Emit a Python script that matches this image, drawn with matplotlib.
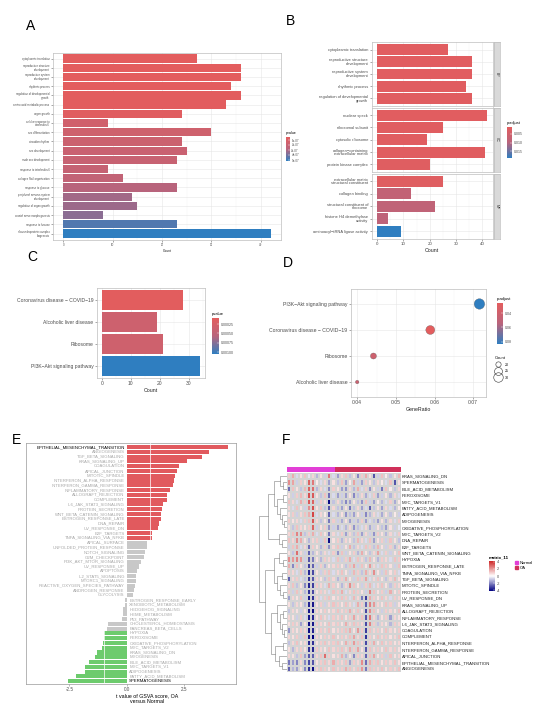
import numpy as np
import matplotlib
matplotlib.use('Agg')
import matplotlib.pyplot as plt
from matplotlib.colors import LinearSegmentedColormap, ListedColormap, Normalize
from matplotlib.cm import ScalarMappable
from matplotlib.lines import Line2D
from matplotlib.patches import Patch

plt.rcParams['font.family'] = ['Liberation Sans', 'DejaVu Sans']

# ---- A: GO enrichment (bar) ----
a_terms = ['cytoplasmic translation', 'reproductive structure\ndevelopment', 'reproductive system\ndevelopment',
           'rhythmic process', 'regulation of developmental\ngrowth', 'amino acid metabolic process', 'organ growth',
           'cellular response to\ninterleukin-6', 'sex differentiation', 'circadian rhythm', 'sex development',
           'male sex development', 'response to interleukin-6', 'collagen fibril organization',
           'response to glucose', 'peripheral nervous system\ndevelopment', 'regulation of organ growth',
           'cranial nerve morphogenesis', 'response to hexose', 'ribonucleoprotein complex\nbiogenesis']
a_count = [27, 36, 36, 34, 36, 33, 24, 9, 30, 24, 25, 23, 9, 12, 23, 14, 15, 8, 23, 42]
a_pval = [0.40e-7, 0.41e-7, 0.42e-7, 0.43e-7, 0.45e-7, 0.48e-7, 0.55e-7, 1.5e-7, 1.6e-7, 1.8e-7,
          1.9e-7, 2.0e-7, 2.1e-7, 2.3e-7, 2.8e-7, 3.2e-7, 3.3e-7, 3.6e-7, 4.6e-7, 5.2e-7]

# ---- B: GO by ontology ----
b_onto = ['BP', 'CC', 'MF']
b_terms = [['cytoplasmic translation', 'reproductive structure\ndevelopment', 'reproductive system\ndevelopment',
            'rhythmic process', 'regulation of developmental\ngrowth'],
           ['nuclear speck', 'ribosomal subunit', 'cytosolic ribosome', 'collagen\u2212containing\nextracellular matrix',
            'protein kinase complex'],
           ['extracellular matrix\nstructural constituent', 'collagen binding', 'structural constituent of\nribosome',
            'histone H4 demethylase\nactivity', 'aminoacyl\u2212tRNA ligase activity']]
b_count = [[27, 36, 36, 34, 36], [42, 25, 19, 41, 20], [25, 13, 22, 4, 9]]
b_padj = [[0.0015, 0.0015, 0.0015, 0.0016, 0.0016], [0.0015, 0.0016, 0.0017, 0.0016, 0.0018],
          [0.0018, 0.0080, 0.0085, 0.0090, 0.0190]]

# ---- C: KEGG bar ----
c_terms = ['Coronavirus disease \u2212 COVID\u221219', 'Alcoholic liver disease', 'Ribosome',
           'PI3K\u2212Akt signaling pathway']
c_count = [28, 19, 21, 34]
c_pval = [0.0001, 0.00034, 0.00033, 0.00105]

# ---- D: KEGG dot ----
d_terms = ['PI3K\u2212Akt signaling pathway', 'Coronavirus disease \u2212 COVID\u221219', 'Ribosome',
           'Alcoholic liver disease']
d_ratio = [0.0716, 0.0589, 0.0442, 0.0400]
d_count = [34, 28, 21, 19]
d_padj = [0.083, 0.026, 0.041, 0.043]

# ---- E: GSVA t values ----
e_sets = ['EPITHELIAL_MESENCHYMAL_TRANSITION', 'ANGIOGENESIS', 'TGF_BETA_SIGNALING', 'KRAS_SIGNALING_UP',
          'COAGULATION', 'APICAL_JUNCTION', 'MITOTIC_SPINDLE', 'INTERFERON_ALPHA_RESPONSE',
          'INTERFERON_GAMMA_RESPONSE', 'INFLAMMATORY_RESPONSE', 'ALLOGRAFT_REJECTION', 'COMPLEMENT',
          'IL6_JAK_STAT3_SIGNALING', 'PROTEIN_SECRETION', 'WNT_BETA_CATENIN_SIGNALING', 'ESTROGEN_RESPONSE_LATE',
          'DNA_REPAIR', 'UV_RESPONSE_DN', 'E2F_TARGETS', 'TNFA_SIGNALING_VIA_NFKB', 'APICAL_SURFACE',
          'UNFOLDED_PROTEIN_RESPONSE', 'NOTCH_SIGNALING', 'G2M_CHECKPOINT', 'PI3K_AKT_MTOR_SIGNALING',
          'UV_RESPONSE_UP', 'APOPTOSIS', 'IL2_STAT5_SIGNALING', 'MTORC1_SIGNALING',
          'REACTIVE_OXYGEN_SPECIES_PATHWAY', 'ANDROGEN_RESPONSE', 'GLYCOLYSIS', 'ESTROGEN_RESPONSE_EARLY',
          'XENOBIOTIC_METABOLISM', 'HEDGEHOG_SIGNALING', 'HEME_METABOLISM', 'P53_PATHWAY',
          'CHOLESTEROL_HOMEOSTASIS', 'PANCREAS_BETA_CELLS', 'HYPOXIA', 'PEROXISOME', 'OXIDATIVE_PHOSPHORYLATION',
          'MYC_TARGETS_V2', 'KRAS_SIGNALING_DN', 'MYOGENESIS', 'BILE_ACID_METABOLISM', 'MYC_TARGETS_V1',
          'ADIPOGENESIS', 'FATTY_ACID_METABOLISM', 'SPERMATOGENESIS']
e_tval = [4.38, 3.58, 3.28, 2.59, 2.25, 2.19, 2.09, 2.04, 2.0, 1.86, 1.75, 1.72, 1.58, 1.51, 1.48, 1.46,
          1.38, 1.33, 1.09, 1.09, 0.88, 0.86, 0.77, 0.74, 0.61, 0.51, 0.45, 0.41, 0.39, 0.36, 0.32, 0.26,
          -0.07, -0.10, -0.16, -0.17, -0.20, -0.81, -0.88, -1.01, -1.02, -1.03, -1.07, -1.29, -1.41, -1.64,
          -1.83, -1.84, -2.20, -2.57]

# ---- F: heatmap ----
f_rows = ['KRAS_SIGNALING_DN', 'SPERMATOGENESIS', 'BILE_ACID_METABOLISM', 'PEROXISOME', 'MYC_TARGETS_V1',
          'FATTY_ACID_METABOLISM', 'ADIPOGENESIS', 'MYOGENESIS', 'OXIDATIVE_PHOSPHORYLATION', 'MYC_TARGETS_V2',
          'DNA_REPAIR', 'E2F_TARGETS', 'WNT_BETA_CATENIN_SIGNALING', 'HYPOXIA', 'ESTROGEN_RESPONSE_LATE',
          'TNFA_SIGNALING_VIA_NFKB', 'TGF_BETA_SIGNALING', 'MITOTIC_SPINDLE', 'PROTEIN_SECRETION', 'UV_RESPONSE_DN',
          'KRAS_SIGNALING_UP', 'ALLOGRAFT_REJECTION', 'INFLAMMATORY_RESPONSE', 'IL6_JAK_STAT3_SIGNALING',
          'COAGULATION', 'COMPLEMENT', 'INTERFERON_ALPHA_RESPONSE', 'INTERFERON_GAMMA_RESPONSE', 'APICAL_JUNCTION',
          'EPITHELIAL_MESENCHYMAL_TRANSITION', 'ANGIOGENESIS']
f_groups = ['Normal'] * 12 + ['OA'] * 16
f_matrix = [
    [1.0, 1.6, -0.6, 0.6, 1.2, -0.4, 0.8, -1.2, 0.6, -0.8, 2.6, -0.6, -1.6, 0.8, 1.2, -1.0, 0.6, -2.0, 1.0, 1.6, 0.6, -2.8, -0.8, 1.2, 0.4, -1.0, 0.6, 1.4],
    [2.2, 1.8, -0.8, 1.0, 0.6, 3.0, 2.6, 0.4, -0.6, 0.8, -1.6, 0.6, -1.0, 1.2, -1.6, 0.4, 1.8, -0.8, -1.6, 1.0, 0.6, -1.0, 0.8, 0.4, -0.6, 1.2, -2.8, 0.6],
    [-2.4, 1.2, 0.6, -1.0, 1.4, 3.0, 2.8, -1.2, 0.8, -0.6, -2.0, 1.0, 0.6, -1.6, -1.8, 0.8, -1.2, 1.6, -0.6, 1.0, -1.8, 0.6, -0.8, -2.2, 1.2, 0.4, -1.0, 0.8],
    [0.6, -0.8, 1.0, 1.4, 0.8, 3.4, 3.2, 0.6, -1.0, 1.2, -2.4, -0.6, -1.6, -0.8, -1.6, 0.6, -2.0, -1.0, 0.8, -1.4, -0.6, 1.0, -1.6, -0.8, 0.6, -1.2, 0.8, -0.6],
    [1.2, 0.8, -0.6, 1.6, 1.0, 3.2, 3.0, -0.8, 1.0, 0.6, -4.0, -1.0, 0.8, -1.2, -2.0, -1.6, 0.6, -1.0, -1.8, 1.2, -0.8, -1.6, 0.4, -1.2, -0.6, 1.0, -1.4, 0.4],
    [0.8, -0.6, 1.2, 0.6, -0.8, 2.2, 3.4, 0.6, 1.2, -1.0, -2.8, 0.8, -1.0, -1.6, 0.6, -2.2, -1.0, 0.8, -1.6, -0.6, -2.6, -1.0, 0.6, -1.6, 0.8, -0.6, -1.2, 0.4],
    [0.6, 1.0, -0.8, 0.8, 1.2, 1.6, 3.6, -0.6, 0.8, 0.4, -2.6, -0.6, -1.2, 0.6, -1.8, -1.0, -1.6, 0.6, -0.8, -2.0, -1.2, 0.8, -0.6, -1.4, 0.6, -1.0, 0.4, -0.8],
    [1.0, 0.6, 0.8, -0.6, 1.0, 1.2, 3.2, 0.8, -1.0, 0.6, -2.2, 1.0, -0.8, -1.4, 0.6, -1.6, -0.8, -1.2, 1.0, -1.6, -0.6, -1.0, -1.6, 0.6, -1.2, 0.8, -0.6, 1.0],
    [0.6, -1.0, 1.2, 0.8, 0.6, 1.0, 3.0, -0.8, 0.6, 1.0, -1.8, -0.8, -1.6, -0.6, -1.2, 0.8, -1.8, -1.0, -0.6, 0.8, -1.4, -0.8, 0.6, -1.0, -1.6, 0.6, -0.8, -0.4],
    [0.8, 1.2, 2.4, 2.2, -1.0, 1.0, 1.6, -0.6, 1.2, 0.6, -2.2, 0.8, -0.6, 1.0, -1.6, 0.8, -1.0, 1.2, -1.6, 0.8, -0.8, -1.8, 1.0, 0.6, -1.2, 0.8, -0.6, 1.0],
    [1.2, 0.8, 2.2, 1.6, 0.6, -1.2, 0.8, 1.0, -0.8, 1.2, -4.0, 0.6, 1.0, -1.2, 0.8, 0.6, -1.0, 1.4, 0.8, -0.6, 1.2, -1.6, 0.6, 1.0, -0.8, 1.2, 0.6, -1.0],
    [-0.8, 1.2, 1.6, -0.6, 0.8, -2.4, 1.0, 0.6, -1.2, 1.0, -1.8, 0.8, 1.2, -0.8, 0.6, 1.6, -1.0, 0.8, -0.6, 1.2, 1.0, -1.0, 1.4, 0.6, -0.8, 1.0, -1.2, 0.8],
    [0.6, -1.0, 2.8, 0.8, -0.8, -2.6, -1.2, 0.6, -1.0, 0.8, -0.6, 1.0, -1.8, 1.2, -0.8, 0.6, 1.0, -1.2, 1.6, 0.6, -1.0, 0.8, 1.8, -0.6, 1.0, -0.8, 0.6, 1.2],
    [2.2, 2.0, 2.4, 2.0, -0.8, -2.8, -2.2, 0.6, -1.2, 1.0, 0.8, -0.6, 1.2, -0.8, 1.0, 1.6, -0.6, 1.2, 0.8, -1.0, 1.4, 0.6, -1.2, 1.0, 0.8, -0.6, 1.2, 1.0],
    [1.6, -2.0, 1.2, 0.6, -1.0, -3.2, -2.6, -0.8, 1.0, -1.2, 0.6, 0.8, 1.0, 0.6, -1.0, 1.2, 1.8, -0.8, 1.2, 0.6, 2.0, 0.8, -0.6, 1.2, 1.0, 0.6, -0.8, 1.2],
    [1.0, 0.8, -0.6, 1.2, -1.2, -3.6, -3.0, 0.6, -0.8, 1.0, 1.2, -0.6, 0.8, 1.2, 0.6, -0.8, 1.4, 1.0, -1.0, 1.6, 0.8, 2.2, 0.6, -0.8, 1.2, 0.6, 1.0, -0.6],
    [-2.6, 0.8, 1.0, -0.6, -1.0, -3.4, -2.8, 0.8, 0.6, -1.0, 1.2, 0.8, -1.2, 1.0, 1.6, 0.6, -0.8, 1.2, 1.0, 1.8, -0.6, 0.8, 1.2, 0.6, -1.0, 0.8, 1.4, 0.6],
    [0.8, 1.2, -1.0, 0.6, -2.0, -3.6, -3.2, 1.0, 0.8, -0.6, 1.6, 1.0, 0.6, -1.2, 0.8, 2.2, 1.2, 0.6, -0.8, 1.0, 1.4, -0.6, 0.8, 1.2, 0.6, -1.0, 1.0, 0.8],
    [1.0, -0.8, 1.2, 0.8, -1.2, -3.4, -3.0, 0.6, 1.0, 0.8, -0.6, 1.2, 1.0, 1.6, -0.6, 0.8, 1.2, 1.0, 0.6, -0.8, 2.4, 1.2, 0.6, 1.0, -0.8, 1.6, 0.6, 1.0],
    [-1.6, 0.8, 0.6, 1.2, -0.8, -3.8, -3.4, 0.8, -0.6, 1.0, 1.2, 0.6, 0.8, 1.2, 1.0, -0.6, 1.4, 0.8, -2.2, -3.2, 1.6, 1.0, 0.6, 1.2, 0.8, -0.6, 1.0, 0.8],
    [0.6, -1.0, 0.8, 0.6, -1.2, -3.6, -3.8, 0.6, 1.0, -0.8, 0.8, 1.2, 1.0, 0.6, 1.2, 0.8, -0.6, 1.6, 1.0, -2.6, 2.4, 2.0, 0.8, 0.6, 1.2, 1.0, -0.8, 0.6],
    [-1.0, 0.8, 0.6, -0.8, 0.6, -3.8, -4.0, 0.8, 0.6, 1.0, 0.6, 0.8, 1.2, 0.8, 1.0, 1.6, 0.8, 1.2, 0.6, -3.0, 2.2, 1.2, 0.6, -0.8, 1.0, 0.8, 0.6, 1.2],
    [0.8, 0.6, -0.8, 1.0, -0.6, -3.8, -3.6, 0.6, 1.2, 0.8, -0.6, 1.0, 0.8, 1.2, 0.6, 1.0, 1.8, 0.8, 1.2, -2.8, 2.6, 0.8, -1.2, 0.6, 1.0, -1.6, 0.8, 0.6],
    [0.6, 1.0, 0.8, -1.6, 0.6, -4.0, -3.8, 1.0, 0.8, 0.6, 1.2, 0.8, 1.0, 0.6, 1.6, 0.8, 1.2, 1.0, 0.8, -3.0, 2.4, 1.0, -1.0, 0.8, 0.6, -1.2, 1.0, 0.8],
    [-1.8, 0.8, 0.6, 1.0, 0.8, -4.0, -3.6, 0.6, 1.0, 0.8, 1.2, 0.6, 0.8, 1.0, 1.2, 1.6, 0.6, 2.0, 1.0, -3.2, 1.2, 0.8, 1.0, 0.6, 1.2, 0.8, 0.6, 1.0],
    [0.8, 0.6, 1.0, -0.8, 1.2, -3.8, -4.2, 0.8, 0.6, 1.0, 0.8, 1.2, 0.6, 1.0, 0.8, 1.2, 1.8, 0.8, 1.2, -3.4, 1.0, 0.6, 1.2, 0.8, 1.0, 0.6, 0.8, 1.2],
    [-1.0, 0.8, 1.2, 0.6, 0.8, -3.6, -3.4, 0.6, 1.0, 1.2, 0.8, 1.0, 1.2, 0.6, 1.6, 1.0, 2.0, 1.2, 0.8, -3.0, 1.0, 1.6, 0.6, 1.2, 0.8, 1.0, 0.6, 0.8],
    [0.6, -1.2, 0.8, 1.0, 0.6, -3.4, -3.6, 1.0, 0.8, 0.6, 1.2, 0.8, 1.0, 1.2, 0.8, 1.6, 1.0, 1.8, 0.6, -2.8, 1.2, 0.8, 1.0, 0.6, 1.2, 0.8, 1.0, 0.6],
    [0.8, 0.6, -1.0, 1.2, -1.6, -2.8, -2.6, 0.8, 1.2, 2.8, 1.0, 0.6, 0.8, 1.6, -1.2, 0.6, -2.0, 1.0, 0.8, -2.6, 1.2, 1.8, 0.6, 1.0, -0.8, 1.2, 0.6, 0.8],
    [-2.2, -1.6, -2.0, 0.8, -2.0, -3.0, -2.8, 0.6, 1.0, 1.2, 0.8, 1.6, 1.0, 0.8, 1.2, -1.6, 1.0, 0.8, 2.2, -2.4, 1.6, 1.0, 1.2, 0.6, 1.0, 0.8, 1.2, 0.6],
    [-2.6, -1.2, -1.6, 0.6, -2.0, -3.4, -4.0, 0.8, 1.2, 1.0, 0.6, 1.2, 0.8, 1.0, 1.6, 1.2, 0.8, 1.2, 2.0, -2.2, 1.2, 1.0, 0.8, 1.2, 0.6, 1.0, 0.8, 1.2],
]
# row dendrogram: (height, left, right), leaves are row indices
f_tree = (9.0,
          (6.0, (4.0, (2.0, 0, (1.0, 1, 2)), (3.0, (1.2, 3, 4), (2.2, 5, (1.6, 6, (0.8, 7, 8))))),
           (2.6, 9, (1.4, 10, 11))),
          (7.0, (4.2, (2.4, 12, (1.2, 13, 14)), (3.0, (1.5, 15, 16), (2.0, 17, (1.3, 18, 19)))),
           (5.0, (3.2, 20, (2.2, (1.1, 21, 22), (1.5, 23, (0.8, 24, 25)))),
            (3.8, (1.3, 26, 27), (2.6, 28, (1.6, 29, 30))))))

W, H = 550, 728
fig = plt.figure(figsize=(5.5, 7.28), dpi=100)


def box(l, t, r, b):
    return fig.add_axes([l / W, 1 - b / H, (r - l) / W, (b - t) / H])


grad = LinearSegmentedColormap.from_list('rb', ['#E35D5E', '#B9647C', '#2F7EC0'])
hm_cmap = LinearSegmentedColormap.from_list('hm', ['#000080', '#FFFFFF', '#CD2626'])
TXT = '#4D4D4D'


def gg_style(ax, fs):
    ax.set_facecolor('white')
    for s in ax.spines.values():
        s.set_color('#BDBDBD')
        s.set_linewidth(0.5)
    ax.grid(True, which='major', color='#E6E6E6', lw=0.4)
    ax.grid(True, which='minor', axis='x', color='#F2F2F2', lw=0.3)
    ax.set_axisbelow(True)
    ax.tick_params(length=1.5, width=0.4, color='#666666', labelsize=fs, labelcolor=TXT, pad=1)
    ax.tick_params(which='minor', length=0)


def cbar(l, t, r, b, cmap, vmin, vmax, ticks, labels, title, fs, reverse=True, bold=False):
    cax = box(l, t, r, b)
    cb = fig.colorbar(ScalarMappable(Normalize(vmin, vmax), cmap), cax=cax)
    cb.outline.set_visible(False)
    cb.set_ticks(ticks, labels=labels)
    cax.tick_params(labelsize=fs, length=1.2, width=0.3, color='white', direction='in', pad=1, labelcolor=TXT)
    if reverse:
        cax.invert_yaxis()
    cax.set_title(title, fontsize=fs + 0.4, loc='left', pad=2, fontweight='bold' if bold else 'normal')
    return cax


# ---------------- A ----------------
axA = box(53, 53, 281, 240)
gg_style(axA, 2.0)
normA = Normalize(0.4e-7, 5.2e-7)
yA = np.arange(len(a_terms))
axA.barh(yA, a_count, height=0.9, color=grad(normA(np.array(a_pval))))
axA.set_ylim(len(a_terms) - 0.3, -0.6)
axA.set_xlim(-2.1, 44.1)
axA.set_xticks([0, 10, 20, 30, 40])
axA.set_xticks([5, 15, 25, 35], minor=True)
axA.set_yticks(yA, a_terms)
for lab in axA.get_yticklabels():
    lab.set_linespacing(0.9)
axA.set_xlabel('Count', fontsize=2.4, labelpad=1, color='#222222')
cbar(286, 137, 290, 161, grad, 0.4e-7, 5.2e-7, [1e-7, 2e-7, 3e-7, 4e-7, 5e-7],
     ['1e-07', '2e-07', '3e-07', '4e-07', '5e-07'], 'pvalue', 2.2)

# ---------------- B ----------------
normB = Normalize(0.001, 0.019)
b_tops = [42, 107.5, 173.5]
b_bots = [106, 172, 239]
for k, onto in enumerate(b_onto):
    ax = box(371.7, b_tops[k], 493, b_bots[k])
    gg_style(ax, 2.9)
    yy = np.arange(len(b_terms[k]))
    ax.barh(yy, b_count[k], height=0.9, color=grad(normB(np.array(b_padj[k]))))
    ax.set_ylim(len(yy) - 0.38, -0.62)
    ax.set_xlim(-2.1, 44.1)
    ax.set_xticks([0, 10, 20, 30, 40])
    ax.set_xticks([5, 15, 25, 35], minor=True)
    ax.set_yticks(yy, b_terms[k])
    for lab in ax.get_yticklabels():
        lab.set_linespacing(0.9)
    if k < 2:
        ax.tick_params(axis='x', labelbottom=False, length=0)
    else:
        ax.tick_params(axis='x', labelsize=3.2)
        ax.set_xlabel('Count', fontsize=3.8, labelpad=1, color='#222222')
    sax = box(494, b_tops[k], 500, b_bots[k])
    sax.set_facecolor('#D9D9D9')
    sax.set_xticks([])
    sax.set_yticks([])
    for s in sax.spines.values():
        s.set_color('#BDBDBD')
        s.set_linewidth(0.5)
    sax.text(0.5, 0.5, onto, rotation=-90, ha='center', va='center', fontsize=2.6, color='#333333',
             transform=sax.transAxes)
cbar(507, 127, 512, 158, grad, 0.001, 0.019, [0.005, 0.010, 0.015], ['0.005', '0.010', '0.015'],
     'p.adjust', 2.5)

# ---------------- C ----------------
axC = box(97, 287.5, 205, 378)
gg_style(axC, 3.6)
normC = Normalize(0.00009, 0.00105)
yC = np.arange(len(c_terms))
axC.barh(yC, c_count, height=0.9, color=grad(normC(np.array(c_pval))))
axC.set_ylim(len(c_terms) - 0.45, -0.55)
axC.set_xlim(-1.7, 35.7)
axC.set_xticks([0, 10, 20, 30])
axC.set_xticks([5, 15, 25, 35], minor=True)
axC.set_yticks(yC, c_terms)
axC.set_xlabel('Count', fontsize=3.8, labelpad=1, color='#222222')
cbar(212, 318, 219, 354, grad, 0.00009, 0.00105, [0.00025, 0.0005, 0.00075, 0.001],
     ['0.00025', '0.00050', '0.00075', '0.00100'], 'pvalue', 2.6)

# ---------------- D ----------------
axD = box(351, 289, 486, 397)
gg_style(axD, 3.7)
normD = Normalize(0.026, 0.083)


def dot_size(c):
    c = np.asarray(c, dtype=float)
    d = 3.5 + 7 * np.sqrt((c - min(d_count)) / (max(d_count) - min(d_count)))
    return (d * 0.72) ** 2


yD = np.arange(len(d_terms))
axD.scatter(d_ratio, yD, s=dot_size(d_count), c=grad(normD(np.array(d_padj))), zorder=3,
            edgecolors='#555555', linewidths=0.2)
axD.set_ylim(len(d_terms) - 0.425, -0.575)
axD.set_xlim(0.0384, 0.0733)
axD.set_xticks([0.04, 0.05, 0.06, 0.07], ['0.04', '0.05', '0.06', '0.07'])
axD.set_xticks([0.045, 0.055, 0.065], minor=True)
axD.set_yticks(yD, d_terms)
axD.set_xlabel('GeneRatio', fontsize=3.8, labelpad=1, color='#222222')
cbar(497, 303, 503, 344, grad, 0.026, 0.083, [0.04, 0.06, 0.08], ['0.04', '0.06', '0.08'], 'p.adjust', 2.6)
size_leg = [20, 25, 30]
handles = [Line2D([], [], marker='o', ls='', markerfacecolor='none', markeredgecolor='#333333',
                  markeredgewidth=0.4, markersize=np.sqrt(dot_size(v)), label=str(v)) for v in size_leg]
fig.legend(handles=handles, title='Count', loc='upper left', bbox_to_anchor=(493 / W, 1 - 354 / H),
           frameon=False, fontsize=2.6, title_fontsize=3.0, labelspacing=0.7, handletextpad=1.2,
           handlelength=1.5, borderpad=0.1, alignment='left')

# ---------------- E ----------------
axE = box(26, 443, 236, 684)
yE = np.arange(len(e_sets))
e_col = ['#E15A5E' if v >= 1 else ('#6DCB6D' if v <= -1 else '#C8C8C8') for v in e_tval]
axE.barh(yE, e_tval, height=0.85, color=e_col, zorder=2)
for v in (-1, 1):
    axE.axvline(v, color='white', lw=0.5, zorder=3)
axE.set_ylim(len(e_sets) - 0.4, -0.85)
axE.set_xlim(-4.39, 4.74)
axE.set_yticks([])
axE.set_xticks([-2.5, 0, 2.5], ['-2.5', '0.0', '2.5'])
axE.tick_params(axis='x', labelsize=3.3, length=1.5, width=0.4, color='#888888', pad=1, labelcolor=TXT)
for s in axE.spines.values():
    s.set_color('#999999')
    s.set_linewidth(0.5)
for i, (name, v) in enumerate(zip(e_sets, e_tval)):
    col = 'black' if i in (0, len(e_sets) - 1) else '#A6A6A6'
    if v > 0:
        axE.text(-0.1, i, name, ha='right', va='center', fontsize=3.1, color=col)
    else:
        axE.text(0.1, i, name, ha='left', va='center', fontsize=3.1, color=col)
axE.set_xlabel('t value of GSVA score, OA\nversus Normal', fontsize=3.8, linespacing=1.1)
axE.xaxis.set_label_coords(121 / 210, -0.038)

# ---------------- F ----------------
hax = box(286.7, 472.8, 400.7, 672.2)
hax.pcolormesh(np.array(f_matrix), cmap=hm_cmap, vmin=-4.2, vmax=4.2, edgecolors='#D4D4D4', linewidth=0.06)
hax.set_xlim(0, len(f_groups))
hax.set_ylim(len(f_rows), 0)
hax.set_xticks([])
hax.yaxis.tick_right()
hax.set_yticks(np.arange(len(f_rows)) + 0.5, f_rows)
hax.tick_params(axis='y', length=0, labelsize=3.1, pad=1, labelcolor='#222222')
for s in hax.spines.values():
    s.set_visible(False)

grp_levels = ['Normal', 'OA']
grp_colors = ['#E23FD6', '#D0305A']
aax = box(286.7, 467.3, 400.7, 472.3)
aax.pcolormesh(np.array([[grp_levels.index(g) for g in f_groups]]), cmap=ListedColormap(grp_colors),
               vmin=-0.5, vmax=1.5, edgecolors='face', linewidth=0.1)
aax.set_axis_off()

dax = box(258, 472.8, 286.5, 672.2)


def draw_tree(node):
    if isinstance(node, int):
        return node + 0.5, 0.0
    h, left, right = node
    y1, h1 = draw_tree(left)
    y2, h2 = draw_tree(right)
    dax.plot([h1, h, h, h2], [y1, y1, y2, y2], color='#7F7F7F', lw=0.4)
    return (y1 + y2) / 2, h


draw_tree(f_tree)
dax.set_xlim(9.3, 0)
dax.set_ylim(len(f_rows), 0)
dax.set_axis_off()

cbar(489, 561, 495, 591, hm_cmap, -4.2, 4.2, [4, 2, 0, -2, -4], ['4', '2', '0', '-2', '-4'],
     'matrix_11', 2.8, reverse=False, bold=True)
fig.legend(handles=[Patch(color=c, label=g) for g, c in zip(grp_levels, grp_colors)],
           loc='upper left', bbox_to_anchor=(512 / W, 1 - 558 / H), frameon=False, fontsize=3.0,
           handlelength=0.9, handleheight=0.9, labelspacing=0.2, handletextpad=0.4, borderpad=0.1)

# panel letters
for letter, (x, y) in zip('ABCDEF', [(26, 26), (286, 21), (27, 257), (283, 263), (12, 440), (282, 440)]):
    fig.text(x / W, 1 - y / H, letter, fontsize=10, ha='left', va='center', color='black')

fig.savefig('out.png', dpi=100)
